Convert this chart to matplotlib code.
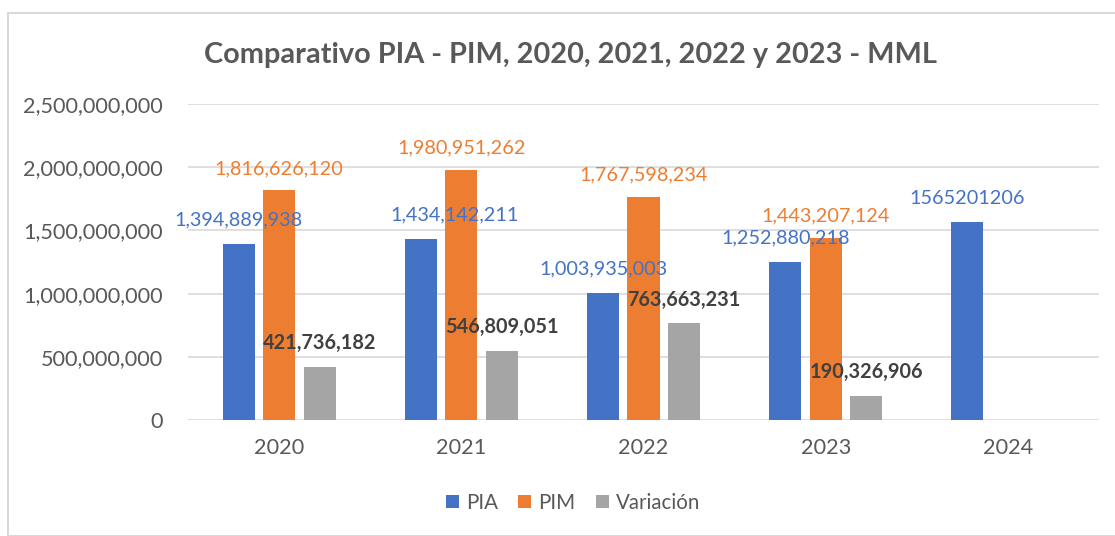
import matplotlib
matplotlib.use("Agg")
import matplotlib.pyplot as plt
import numpy as np
from matplotlib.ticker import FuncFormatter
from matplotlib.patches import Rectangle

years = ["2020", "2021", "2022", "2023", "2024"]
pia = [1394889938, 1434142211, 1003935003, 1252880218, 1565201206]
pim = [1816626120, 1980951262, 1767598234, 1443207124, None]
variacion = [421736182, 546809051, 763663231, 190326906, None]
pia_labels = ["1,394,889,938", "1,434,142,211", "1,003,935,003", "1,252,880,218", "1565201206"]
series_names = ["PIA", "PIM", "Variación"]
title = "Comparativo PIA - PIM, 2020, 2021, 2022 y 2023 - MML"

plt.rcParams['font.family'] = ['Lato', 'DejaVu Sans']

W, H = 1115, 536
fig = plt.figure(figsize=(W/100, H/100), dpi=100)
ax = fig.add_axes([188/W, 1-420/H, (1099-188)/W, (420-104)/H])

colors = ["#4472C4", "#ED7D31", "#A5A5A5"]
x = np.arange(len(years))
bw = 0.176
step = 0.222
data = [pia, pim, variacion]
for i, (vals, c, name) in enumerate(zip(data, colors, series_names)):
    xs = [xi + (i-1)*step for xi, v in zip(x, vals) if v is not None]
    vs = [v for v in vals if v is not None]
    ax.bar(xs, vs, width=bw, color=c, label=name, zorder=3)

fmt = lambda v: f"{v:,.0f}"
lab_fs = 14.3
pia_dx = [0, 34, 0, 0, 0]
for xi, v, lab, dx in zip(x, pia, pia_labels, pia_dx):
    ax.annotate(lab, (xi - step, v), xytext=(dx*0.72, 24*0.72), textcoords='offset points',
                ha='center', va='center', color="#4472C4", fontsize=lab_fs)
for xi, v in zip(x, pim):
    if v is None:
        continue
    ax.annotate(fmt(v), (xi, v), xytext=(0, 22*0.72), textcoords='offset points',
                ha='center', va='center', color="#ED7D31", fontsize=lab_fs)
for xi, v in zip(x, variacion):
    if v is None:
        continue
    ax.annotate(fmt(v), (xi + step, v), xytext=(0, 24*0.72), textcoords='offset points',
                ha='center', va='center', color="#404040", fontsize=lab_fs, fontweight='bold')

ax.set_ylim(0, 2.5e9)
ax.set_yticks(np.arange(0, 2.5e9 + 1, 5e8))
ax.yaxis.set_major_formatter(FuncFormatter(lambda v, p: f"{v:,.0f}"))
ax.set_xlim(-0.5, 4.5)
ax.set_xticks(x)
ax.set_xticklabels(years)
ax.grid(axis='y', color="#D9D9D9", linewidth=1.2, zorder=0)
for s in ax.spines.values():
    s.set_visible(False)
ax.tick_params(axis='y', length=0, colors="#595959", labelsize=15.6, pad=18)
ax.tick_params(axis='x', length=0, colors="#595959", labelsize=15.6, pad=13)

fig.text(570/W, 1-55/H, title, ha='center', va='center', fontsize=20.8,
         fontweight='bold', color="#595959")

leg = fig.legend(loc='center', bbox_to_anchor=(573/W, 1-503/H), ncol=3, frameon=False,
                 fontsize=14.8, handlelength=0.62, handleheight=0.62, columnspacing=1.0,
                 handletextpad=0.35, labelcolor="#595959")

fig.patches.append(Rectangle((7.5/W, 0), 1.2, 1-12.5/H, transform=fig.transFigure,
                             fill=False, edgecolor="#D9D9D9", linewidth=1.5))

fig.savefig("out.png", dpi=100)
